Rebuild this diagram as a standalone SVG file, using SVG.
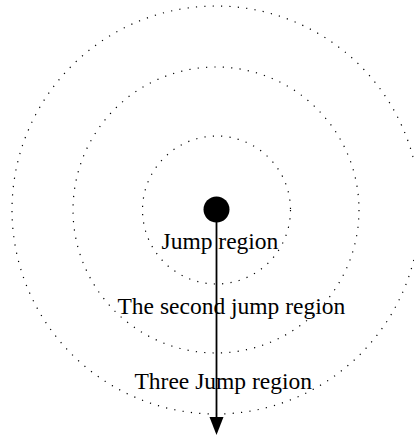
<svg xmlns="http://www.w3.org/2000/svg" width="414" height="436" viewBox="0 0 414 436">
<style>
.ring{fill:none;stroke:#000;stroke-width:1.2;stroke-dasharray:1.2 7.2}
.lbl{font-family:"Liberation Serif","Times New Roman",serif;font-size:23.5px;fill:#000}
</style>
<rect width="414" height="436" fill="#fff"/>
<g id="outer-region"><circle class="ring" cx="216" cy="210" r="204"/><text class="lbl" x="134.5" y="389">Three Jump region</text></g>
<g id="second-region"><circle class="ring" cx="216" cy="210" r="143"/><text class="lbl" x="117.5" y="314">The second jump region</text></g>
<g id="jump-region"><circle class="ring" cx="216.5" cy="210" r="74"/><text class="lbl" x="161.5" y="249">Jump region</text></g>
<g id="connectors">
<line x1="216.5" y1="210" x2="216.5" y2="419" stroke="#000" stroke-width="1.8"/>
<polygon points="209.5,417 223.5,417 216.5,435" fill="#000"/>
</g>
<g id="center"><circle cx="216.5" cy="209.5" r="13" fill="#000"/></g>
</svg>
